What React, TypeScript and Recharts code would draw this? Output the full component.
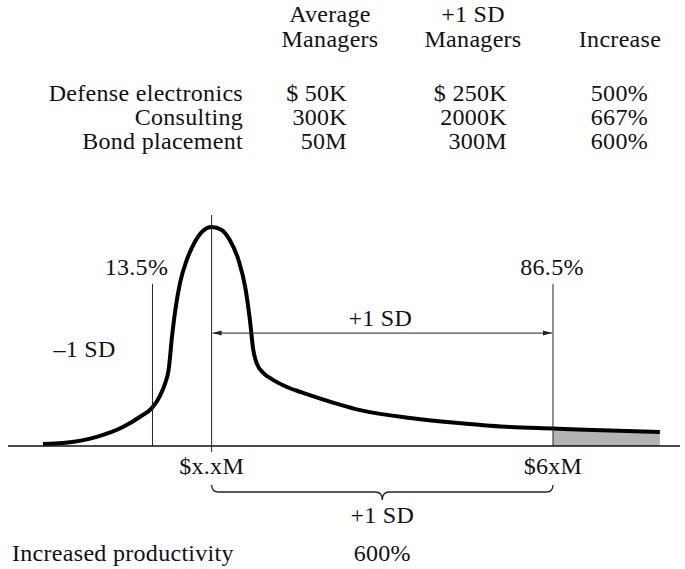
import React from 'react';
import {
  ComposedChart,
  Line,
  Area,
  XAxis,
  YAxis,
  ReferenceLine,
  Label
} from 'recharts';

// table above the chart
const headerTop = ['Average', '+1 SD'];
const headerBottom = ['Managers', 'Managers', 'Increase'];
const industries = ['Defense electronics', 'Consulting', 'Bond placement'];
const averageManagers = ['$ 50K', '300K', '50M'];
const topManagers = ['$ 250K', '2000K', '300M'];
const increases = ['500%', '667%', '600%'];

// skewed output distribution, x and height in chart units (0-100)
const curveX = [
  5.2, 8.2, 13.2, 17.1, 19.6, 21.4, 22.6, 23.4, 23.9, 24.4, 24.9, 25.6, 26.6, 27.8, 29.0, 30.3,
  31.8, 33.0, 34.3, 35.3, 36.0, 36.5, 37.0, 38.0, 39.5, 41.5, 43.5, 44.9, 52.4, 59.8, 67.3, 74.7,
  81.1, 87.1, 97.0
];
const curveY = [
  0.8, 1.2, 3.7, 7.7, 11.8, 15.4, 20.3, 25.6, 30.9, 44.3, 55.3, 66.3, 75.6, 82.9, 87.4, 89.0,
  87.8, 83.7, 75.6, 64.6, 51.2, 39.0, 33.7, 29.7, 26.8, 24.0, 22.0, 20.7, 14.6, 11.4, 9.3, 7.7,
  7.1, 6.5, 5.7
];

const meanX = 30.3; // $x.xM
const lowX = 21.5; // 13.5%
const highX = 81.1; // 86.5%
const percentileTop = 65.9;
const meanTop = 93.9;
const arrowY = 45.9;
const braceY = -18.7;

const meanLabel = '$x.xM';
const highLabel = '$6xM';
const lowPct = '13.5%';
const highPct = '86.5%';
const sdLabel = '+1 SD';
const minusSdLabel = '–1 SD';
const productivityLabel = 'Increased productivity';
const productivityValue = '600%';

const curveData = curveX.map((u, i) => ({ u, v: curveY[i] }));
const tailData = curveData.filter((d) => d.u >= highX);

const W = 685;
const H = 569;
const FONT = "'Liberation Serif', 'Times New Roman', serif";
const textStyle = { fontFamily: FONT, fontSize: 24, letterSpacing: 0.3, fill: '#111' };

const note = (text: string, dx: number, dy: number, edge: 'top' | 'bottom' = 'top', anchor = 'middle') =>
  (props: any) => {
    const vb = props.viewBox;
    const x = vb.x + vb.width / 2 + dx;
    const y = (edge === 'top' ? vb.y : vb.y + vb.height) + dy;
    return (
      <text x={x} y={y} textAnchor={anchor} style={textStyle}>
        {text}
      </text>
    );
  };

const Arrow = (props: any) => {
  const { x1, x2, y1 } = props;
  const a = x1 + 1;
  const b = x2 - 1;
  return (
    <g>
      <line x1={a} y1={y1} x2={b} y2={y1} stroke="#222" strokeWidth={1} />
      <polygon points={`${a},${y1} ${a + 9},${y1 - 2.5} ${a + 9},${y1 + 2.5}`} fill="#222" />
      <polygon points={`${b},${y1} ${b - 9},${y1 - 2.5} ${b - 9},${y1 + 2.5}`} fill="#222" />
    </g>
  );
};

const Brace = (props: any) => {
  const { x1, x2, y1 } = props;
  const mid = (x1 + x2) / 2;
  const r = 7;
  const d = [
    `M ${x1} ${y1 - 7}`,
    `Q ${x1} ${y1} ${x1 + r} ${y1}`,
    `L ${mid - r} ${y1}`,
    `Q ${mid} ${y1} ${mid} ${y1 + 8}`,
    `Q ${mid} ${y1} ${mid + r} ${y1}`,
    `L ${x2 - r} ${y1}`,
    `Q ${x2} ${y1} ${x2} ${y1 - 7}`
  ].join(' ');
  return <path d={d} fill="none" stroke="#222" strokeWidth={1.3} />;
};

const colCenters = [330, 473, 620];
const colRights = [347, 507, 648];
const rowBaselines = [101, 125, 149];

const App: React.FC = () => {
  return (
    <div style={{ position: 'absolute', left: 0, top: 0, width: W, height: H, background: '#fff' }}>
      <ComposedChart
        width={W}
        height={H}
        data={curveData}
        margin={{ top: 200, right: 5, bottom: 123, left: 8 }}
      >
        <XAxis dataKey="u" type="number" domain={[0, 100]} allowDataOverflow hide />
        <YAxis type="number" domain={[0, 100]} allowDataOverflow hide />
        <Area
          data={tailData}
          dataKey="v"
          type="monotone"
          fill="#b3b3b3"
          fillOpacity={1}
          stroke="none"
          baseValue={0}
          isAnimationActive={false}
        />
        <Line
          dataKey="v"
          type="monotone"
          stroke="#000"
          strokeWidth={4}
          dot={false}
          activeDot={false}
          isAnimationActive={false}
        />
        <ReferenceLine y={0} stroke="#111" strokeWidth={1.5} ifOverflow="visible" />
        <ReferenceLine
          segment={[{ x: lowX, y: 0 }, { x: lowX, y: percentileTop }]}
          stroke="#222"
          strokeWidth={1}
          ifOverflow="visible"
        >
          <Label content={note(lowPct, -16, -9)} />
          <Label content={note(minusSdLabel, -99, 73, 'top', 'start')} />
        </ReferenceLine>
        <ReferenceLine
          segment={[{ x: highX, y: 0 }, { x: highX, y: percentileTop }]}
          stroke="#222"
          strokeWidth={1}
          ifOverflow="visible"
        >
          <Label content={note(highPct, -1, -9)} />
          <Label content={note(highLabel, 0, 28, 'bottom')} />
        </ReferenceLine>
        <ReferenceLine
          segment={[{ x: meanX, y: -2.4 }, { x: meanX, y: meanTop }]}
          stroke="#222"
          strokeWidth={1}
          ifOverflow="visible"
        >
          <Label content={note(meanLabel, 0, 22, 'bottom')} />
        </ReferenceLine>
        <ReferenceLine
          segment={[{ x: meanX, y: arrowY }, { x: highX, y: arrowY }]}
          shape={Arrow}
          ifOverflow="visible"
        >
          <Label content={note(sdLabel, -2, -7)} />
        </ReferenceLine>
        <ReferenceLine
          segment={[{ x: meanX, y: braceY }, { x: highX, y: braceY }]}
          shape={Brace}
          ifOverflow="visible"
        >
          <Label content={note(sdLabel, 0, 31)} />
          <Label content={note(productivityValue, 0, 69)} />
        </ReferenceLine>
      </ComposedChart>
      <svg
        width={W}
        height={H}
        style={{ position: 'absolute', left: 0, top: 0, pointerEvents: 'none' }}
      >
        {headerTop.map((t, i) => (
          <text key={`h1-${i}`} x={colCenters[i]} y={22} textAnchor="middle" style={textStyle}>
            {t}
          </text>
        ))}
        {headerBottom.map((t, i) => (
          <text key={`h2-${i}`} x={colCenters[i]} y={47} textAnchor="middle" style={textStyle}>
            {t}
          </text>
        ))}
        {industries.map((name, i) => (
          <g key={name}>
            <text x={243} y={rowBaselines[i]} textAnchor="end" style={textStyle}>
              {name}
            </text>
            <text x={colRights[0]} y={rowBaselines[i]} textAnchor="end" style={textStyle}>
              {averageManagers[i]}
            </text>
            <text x={colRights[1]} y={rowBaselines[i]} textAnchor="end" style={textStyle}>
              {topManagers[i]}
            </text>
            <text x={colRights[2]} y={rowBaselines[i]} textAnchor="end" style={textStyle}>
              {increases[i]}
            </text>
          </g>
        ))}
        <text x={12} y={561} style={textStyle}>
          {productivityLabel}
        </text>
      </svg>
    </div>
  );
};

export default App;
